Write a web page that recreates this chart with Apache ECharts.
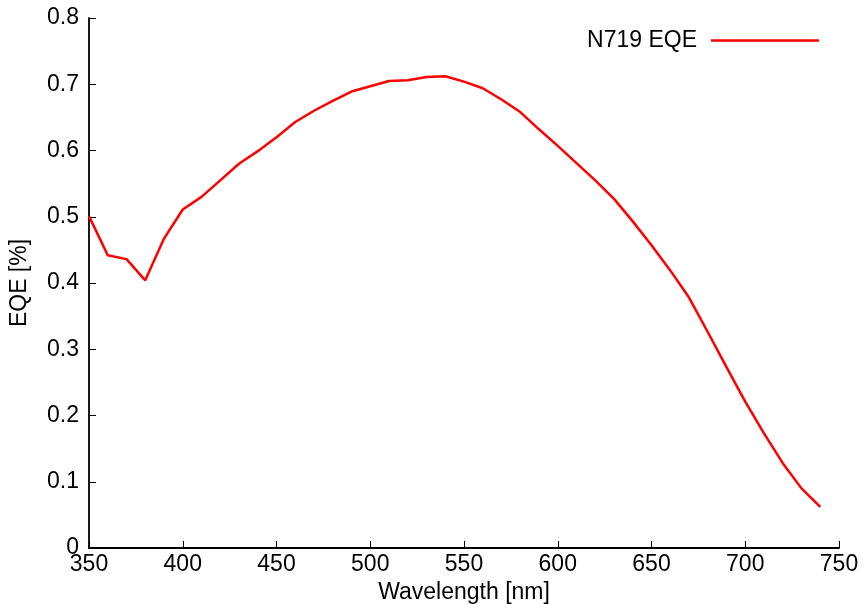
<!DOCTYPE html>
<html>
<head>
<meta charset="utf-8">
<script src="https://cdn.jsdelivr.net/npm/echarts@6/dist/echarts.min.js"></script>
<style>html,body{margin:0;padding:0;background:#fff}#c{width:866px;height:604px}</style>
</head>
<body>
<div id="c"></div>
<script>
const wavelengths = [350,360,370,380,390,400,410,420,430,440,450,460,470,480,490,500,510,520,530,540,550,560,570,580,590,600,610,620,630,640,650,660,670,680,690,700,710,720,730,740];
const eqe = [0.501,0.442,0.436,0.404,0.467,0.511,0.530,0.555,0.580,0.599,0.620,0.643,0.660,0.675,0.689,0.697,0.705,0.706,0.711,0.712,0.704,0.694,0.677,0.658,0.632,0.607,0.581,0.555,0.527,0.493,0.457,0.419,0.378,0.326,0.273,0.221,0.173,0.128,0.090,0.062];
const seriesName = 'N719 EQE';
const xTitle = 'Wavelength [nm]';
const yTitle = 'EQE [%]';

const font = 'Liberation Sans, Arial, sans-serif';
const fs = 23;
const chart = echarts.init(document.getElementById('c'), null, {renderer:'canvas'});
chart.setOption({
  animation:false,
  backgroundColor:'#fff',
  grid:{left:89, right:27, top:18, bottom:56, containLabel:false, outerBoundsMode:'none'},
  legend:{
    right:42, top:24, align:'right', icon:'rect', itemWidth:108, itemHeight:2.5, itemGap:0,
    textStyle:{fontFamily:font, fontSize:fs, color:'#000', padding:[0,9,0,0]},
    data:[seriesName]
  },
  xAxis:{
    type:'value', min:350, max:750, interval:50,
    name:xTitle, nameLocation:'middle', nameGap:30,
    nameTextStyle:{fontFamily:font, fontSize:fs, color:'#000'},
    axisLine:{lineStyle:{color:'#000', width:1.8}},
    axisTick:{inside:true, length:7, lineStyle:{color:'#000', width:1}},
    axisLabel:{fontFamily:font, fontSize:fs, color:'#000', margin:5},
    splitLine:{show:false}
  },
  yAxis:{
    type:'value', min:0, max:0.8, interval:0.1,
    name:yTitle, nameLocation:'middle', nameGap:58, nameRotate:90,
    nameTextStyle:{fontFamily:font, fontSize:fs, color:'#000'},
    axisLine:{show:true, lineStyle:{color:'#000', width:1.8}},
    axisTick:{show:true, inside:true, length:7, lineStyle:{color:'#000', width:1}},
    axisLabel:{fontFamily:font, fontSize:fs, color:'#000', margin:10, formatter:v=>String(Math.round(v*10)/10)},
    splitLine:{show:false}
  },
  series:[{
    name:seriesName, type:'line', showSymbol:false, symbol:'none',
    data:wavelengths.map((w,i)=>[w,eqe[i]]),
    lineStyle:{color:'#ff0000', width:2.5},
    itemStyle:{color:'#ff0000'}
  }]
});
</script>
</body>
</html>
